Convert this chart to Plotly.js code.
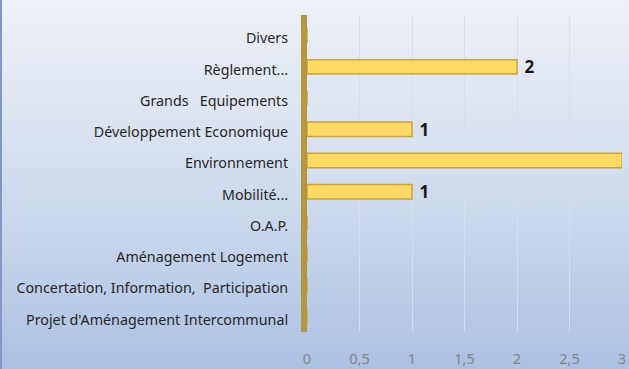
<!DOCTYPE html>
<html>
<head>
<meta charset="utf-8">
<script src="https://cdn.plot.ly/plotly-3.0.1.min.js"></script>
<style>
  html, body { margin: 0; padding: 0; }
  body { width: 629px; height: 369px; overflow: hidden;
         background: linear-gradient(to bottom, #edf0f7 0%, #dbe3f0 35%, #c3d2ea 70%, #abc1e3 100%); }
  #frame { position: absolute; left: 0; top: 0; width: 629px; height: 369px;
           border-left: 2px solid #7f98c8; box-sizing: border-box; }
  #chart { position: absolute; left: 0; top: 0; width: 629px; height: 369px; }
</style>
</head>
<body>
<div id="frame"></div>
<div id="chart"></div>
<script>
const categories = [
  "Divers",
  "Règlement...",
  "Grands   Equipements",
  "Développement Economique",
  "Environnement",
  "Mobilité...",
  "O.A.P.",
  "Aménagement Logement",
  "Concertation, Information,  Participation",
  "Projet d'Aménagement Intercommunal"
];
const values = [0, 2, 0, 1, 3, 1, 0, 0, 0, 0];
const xTickValues = [0, 0.5, 1, 1.5, 2, 2.5, 3];
const xTickLabels = ["0", "0,5", "1", "1,5", "2", "2,5", "3"];

const labels = values.map(v => v ? " " + v : "");

const trace = {
  type: "bar",
  orientation: "h",
  y: categories,
  x: values,
  width: 0.46,
  offset: -0.32,
  marker: { color: "#ffd966", line: { color: "#c9a43e", width: 1.5 } },
  text: labels,
  textposition: "outside",
  cliponaxis: false,
  constraintext: "none",
  textfont: { family: "Open Sans, Noto Sans, sans-serif", size: 17, color: "#1a1a1a", weight: "bold" },
  hoverinfo: "skip"
};

const layout = {
  width: 629, height: 369,
  margin: { l: 307, r: 7, t: 15, b: 37 },
  paper_bgcolor: "rgba(0,0,0,0)",
  plot_bgcolor: "rgba(0,0,0,0)",
  showlegend: false,
  font: { family: "Noto Sans, sans-serif" },
  xaxis: {
    range: [0, 3],
    tickvals: xTickValues,
    ticktext: xTickLabels,
    showgrid: true,
    gridcolor: "rgba(215,222,235,0.95)",
    gridwidth: 1,
    zeroline: false,
    showline: false,
    ticks: "outside",
    ticklen: 14,
    tickcolor: "rgba(0,0,0,0)",
    tickfont: { family: "Noto Sans, sans-serif", size: 14.5, color: "#858585" },
    fixedrange: true
  },
  yaxis: {
    type: "category",
    categoryorder: "array",
    categoryarray: categories,
    range: [9.4, -0.75],
    showgrid: false,
    zeroline: false,
    showline: true,
    linecolor: "#b39841",
    linewidth: 6,
    ticks: "outside",
    ticklen: 10,
    tickcolor: "rgba(0,0,0,0)",
    tickfont: { family: "Noto Sans, sans-serif", size: 14.3, color: "#262626" },
    fixedrange: true
  }
};

Plotly.newPlot("chart", [trace], layout, { displayModeBar: false, staticPlot: true });
</script>
</body>
</html>
